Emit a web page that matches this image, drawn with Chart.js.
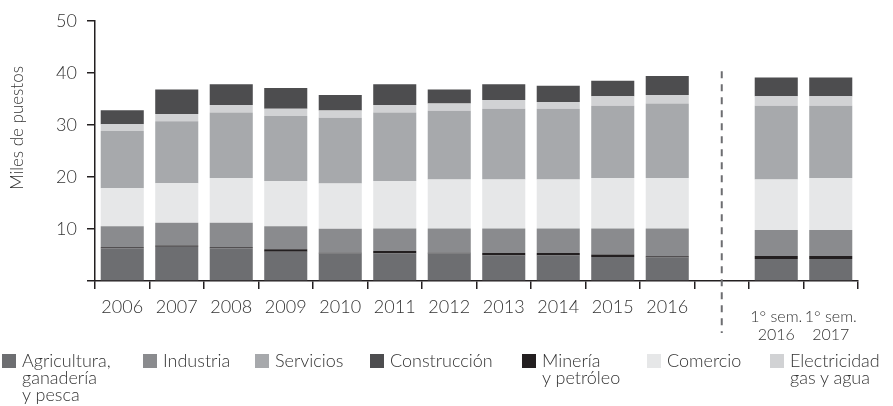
<!DOCTYPE html>
<html>
<head>
<meta charset="utf-8">
<script src="https://cdn.jsdelivr.net/npm/chart.js@4"></script>
<style>
  body { margin: 0; background: #fff; }
  #wrap { position: relative; width: 893px; height: 406px; font-family: Lato, sans-serif; font-weight: 300; color: #333; }
  canvas { position: absolute; left: 0; top: 0; }
  .leg { position: absolute; top: 352px; font-size: 18px; line-height: 17px; white-space: nowrap; }
  .leg i { position: absolute; left: -20px; top: 2px; width: 14px; height: 14px; }
</style>
</head>
<body>
<div id="wrap">
  <canvas id="chart" width="893" height="406"></canvas>
  <div id="legend"></div>
</div>
<script>
const categories = ['2006', '2007', '2008', '2009', '2010', '2011', '2012', '2013', '2014', '2015', '2016', '',
  ['1° sem.', '2016'], ['1° sem.', '2017']];

// miles de puestos, bottom to top
const agricultura  = [6.3, 6.6, 6.3, 5.6, 5.3, 5.3, 5.3, 4.9, 4.9, 4.6, 4.5, null, 4.25, 4.25];
const mineria      = [0.2, 0.2, 0.2, 0.5, 0.15, 0.45, 0.15, 0.5, 0.5, 0.5, 0.25, null, 0.55, 0.55];
const industria    = [4.0, 4.4, 4.7, 4.4, 4.6, 4.35, 4.65, 4.7, 4.7, 5.0, 5.35, null, 5.0, 5.0];
const comercio     = [7.3, 7.6, 8.6, 8.7, 8.7, 9.1, 9.4, 9.4, 9.4, 9.7, 9.7, null, 9.7, 10.0];
const servicios    = [11.0, 11.9, 12.6, 12.5, 12.6, 13.2, 13.2, 13.6, 13.6, 13.9, 14.3, null, 14.2, 13.9];
const electricidad = [1.3, 1.4, 1.4, 1.4, 1.4, 1.4, 1.4, 1.7, 1.3, 1.8, 1.65, null, 1.8, 1.8];
const construccion = [2.7, 4.7, 4.0, 4.0, 3.0, 4.0, 2.7, 3.0, 3.1, 3.0, 3.65, null, 3.6, 3.6];

const yTicks = [10, 20, 30, 40, 50];
const yTitle = 'Miles de puestos';

const series = [
  { label: 'Agricultura, ganadería y pesca', data: agricultura, color: '#6d6e71' },
  { label: 'Minería y petróleo', data: mineria, color: '#231f20' },
  { label: 'Industria', data: industria, color: '#8a8b8e' },
  { label: 'Comercio', data: comercio, color: '#e6e7e8' },
  { label: 'Servicios', data: servicios, color: '#a7a9ac' },
  { label: 'Electricidad gas y agua', data: electricidad, color: '#d1d2d4' },
  { label: 'Construcción', data: construccion, color: '#4d4d4f' }
];

// legend items as they appear in the picture
const legendItems = [
  { lines: ['Agricultura,', 'ganadería', 'y pesca'], color: '#6d6e71', left: 22 },
  { lines: ['Industria'], color: '#8a8b8e', left: 163 },
  { lines: ['Servicios'], color: '#a7a9ac', left: 275 },
  { lines: ['Construcción'], color: '#4d4d4f', left: 390 },
  { lines: ['Minería', 'y petróleo'], color: '#231f20', left: 542 },
  { lines: ['Comercio'], color: '#e6e7e8', left: 667 },
  { lines: ['Electricidad', 'gas y agua'], color: '#d1d2d4', left: 790 }
];

const legendDiv = document.getElementById('legend');
legendItems.forEach(item => {
  const el = document.createElement('div');
  el.className = 'leg';
  el.style.left = item.left + 'px';
  el.innerHTML = '<i style="background:' + item.color + '"></i>' + item.lines.join('<br>');
  legendDiv.appendChild(el);
});

// dashed separator in the empty slot + y title placed as in the original
const extras = {
  id: 'extras',
  afterDatasetsDraw(chart) {
    const ctx = chart.ctx;
    const x = chart.scales.x.getPixelForValue(11);
    ctx.save();
    ctx.strokeStyle = '#6d6e71';
    ctx.lineWidth = 2;
    ctx.setLineDash([7, 6]);
    ctx.beginPath();
    ctx.moveTo(x, chart.scales.y.getPixelForValue(40.3));
    ctx.lineTo(x, chart.chartArea.bottom + 52);
    ctx.stroke();
    ctx.restore();

    ctx.save();
    ctx.translate(18, 128);
    ctx.rotate(-Math.PI / 2);
    ctx.fillStyle = '#333';
    ctx.font = '300 17px Lato';
    ctx.textAlign = 'center';
    ctx.textBaseline = 'middle';
    ctx.fillText(yTitle, 0, 0);
    ctx.restore();
  }
};

const isTwoLine = c => Array.isArray(categories[c.index]);
const rowStep = 9; // px, shared by all x labels so the rows line up

const ctx = document.getElementById('chart').getContext('2d');
new Chart(ctx, {
  type: 'bar',
  data: {
    labels: categories,
    datasets: series.map(s => ({
      label: s.label,
      data: s.data,
      backgroundColor: s.color,
      borderWidth: 0,
      categoryPercentage: 1,
      barPercentage: 0.79
    }))
  },
  options: {
    responsive: false,
    animation: false,
    layout: { padding: { top: 15, right: 35, left: 0, bottom: 0 } },
    plugins: { legend: { display: false }, tooltip: { enabled: false } },
    scales: {
      x: {
        stacked: true,
        afterFit: scale => { scale.height = 125; },
        border: { color: '#231f20', width: 1.5 },
        grid: { display: true, drawOnChartArea: false, tickLength: 8, color: '#231f20', lineWidth: 1.5 },
        ticks: {
          color: '#333',
          padding: 14,
          maxRotation: 0,
          autoSkip: false,
          // same row count everywhere; two-line labels sit a little lower in the original
          callback: (v, i) => {
            const lbl = categories[i];
            return Array.isArray(lbl) ? ['', lbl[0], '', lbl[1]] : [lbl, '', '', ''];
          },
          font: c => isTwoLine(c)
            ? { family: 'Lato', size: 16, weight: '300', lineHeight: rowStep / 16 }
            : { family: 'Lato', size: 18, weight: '300', lineHeight: rowStep / 18 }
        }
      },
      y: {
        stacked: true,
        min: 0,
        max: 50,
        afterFit: scale => { scale.width = 95; },
        afterBuildTicks: scale => {
          scale.ticks = [0].concat(yTicks).map(v => ({ value: v }));
        },
        border: { color: '#231f20', width: 1.5 },
        grid: { display: true, drawOnChartArea: false, tickLength: 8, color: '#231f20', lineWidth: 1.5 },
        ticks: {
          color: '#333',
          padding: 10,
          callback: v => (v === 0 ? '' : v),
          font: { family: 'Lato', size: 18, weight: '300' }
        }
      }
    }
  },
  plugins: [extras]
});
</script>
</body>
</html>
